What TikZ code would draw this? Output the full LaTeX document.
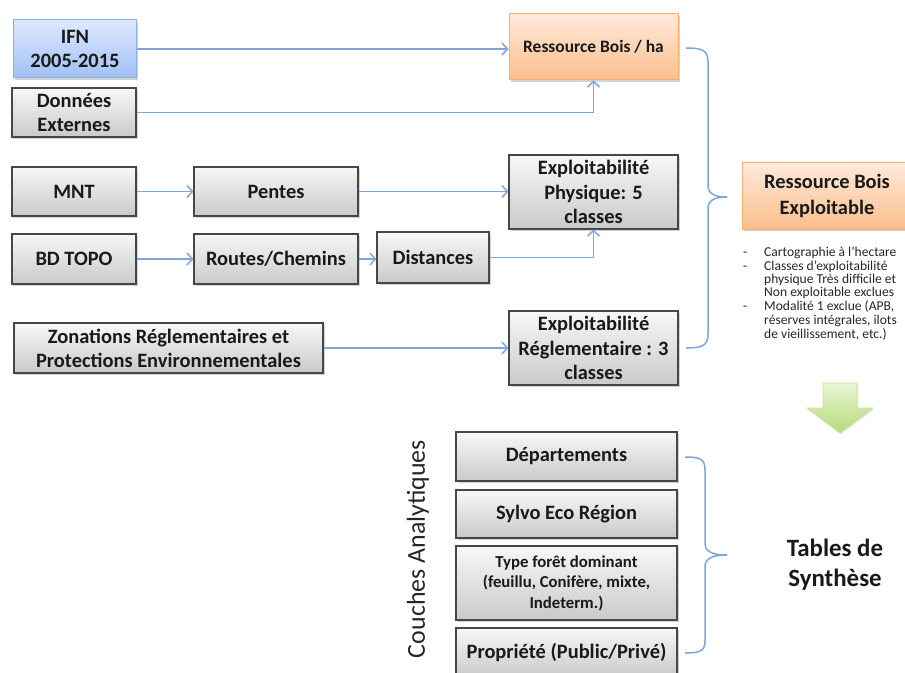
\documentclass[tikz,border=0pt]{standalone}
\usepackage{fontspec}
\setmainfont{Carlito}
\usetikzlibrary{arrows.meta,shadows}
\definecolor{conn}{HTML}{7FA6DA}
\definecolor{oTop}{HTML}{FEEADB}
\definecolor{oBot}{HTML}{FBBE8C}
\definecolor{oBrd}{HTML}{F7AE73}
\definecolor{bTop}{HTML}{DEE9FC}
\definecolor{bBot}{HTML}{A0C0F4}
\definecolor{bBrd}{HTML}{8DB0E8}
\definecolor{gTop}{HTML}{EBF6D8}
\definecolor{gBot}{HTML}{B4DA78}
\definecolor{gBrd}{HTML}{C4E29A}
\tikzset{
  box/.style={align=center, inner sep=0pt, text=black!90,
    drop shadow={shadow xshift=1.5bp, shadow yshift=-1.8bp, opacity=.35},
    font=\fontsize{20.5}{24.5}\selectfont\bfseries},
  gbox/.style={box, draw=black!72, line width=1.1bp, top color=gray!6, bottom color=gray!42},
  obox/.style={box, draw=oBrd, line width=1bp, top color=oTop, bottom color=oBot},
  bbox/.style={box, draw=bBrd, line width=1bp, top color=bTop, bottom color=bBot},
  cn/.style={draw=conn, line width=1.6bp, -{Straight Barb[length=5.5bp,width=12bp,line width=1.5bp]}},
  brc/.style={draw=conn, line width=1.5bp}
}
\begin{document}
\begin{tikzpicture}[x=1bp,y=1bp]
\useasboundingbox (0,0) rectangle (905,-673);
\clip (0,0) rectangle (905,-673);

% top left sources
\node[bbox, minimum width=122bp, minimum height=58bp] (ifn) at (75,-49) {IFN\\2005-2015};
\node[gbox, minimum width=124bp, minimum height=49bp] (don) at (74,-112.5) {Données\\Externes};
\node[obox, minimum width=169bp, minimum height=66bp, font=\fontsize{17.5}{20}\selectfont\bfseries] (rbha) at (593.5,-47) {Ressource Bois / ha};

\node[gbox, minimum width=124bp, minimum height=49bp] (mnt) at (74,-191.5) {MNT};
\node[gbox, minimum width=164bp, minimum height=49bp] (pen) at (276,-191.5) {Pentes};
\node[gbox, minimum width=169bp, minimum height=74bp] (ephys) at (593.5,-192) {Exploitabilité\\Physique: 5\\classes};

\node[gbox, minimum width=124bp, minimum height=50bp] (bd) at (74,-259) {BD TOPO};
\node[gbox, minimum width=164bp, minimum height=50bp] (rou) at (276,-259) {Routes/Chemins};
\node[gbox, minimum width=112bp, minimum height=51bp] (dist) at (433,-257.5) {Distances};

\node[gbox, minimum width=309bp, minimum height=50bp, font=\fontsize{20.5}{24}\selectfont\bfseries] (zon) at (168.5,-348) {Zonations Réglementaires et\\Protections Environnementales};
\node[gbox, minimum width=169bp, minimum height=74bp] (ereg) at (593.5,-348) {Exploitabilité\\Réglementaire : 3\\classes};

\node[obox, minimum width=170bp, minimum height=66bp, font=\fontsize{20.5}{26}\selectfont\bfseries] (rbe) at (827,-196) {Ressource Bois\\Exploitable};

\node[anchor=north west, inner sep=0pt, font=\fontsize{13.6}{13.2}\selectfont, text=black!85] (notes) at (743,-247)
{\renewcommand{\arraystretch}{1}\begin{tabular}{@{}p{21bp}@{}l@{}}
- & Cartographie à l’hectare\\
- & Classes d’exploitabilité\\
  & physique Très difficile et\\
  & Non exploitable exclues\\
- & Modalité 1 exclue (APB,\\
  & réserves intégrales, ilots\\
  & de vieillissement, etc.)
\end{tabular}};

% green arrow
\shade[top color=gTop, bottom color=gBot, draw=gBrd, line width=0.8bp,
  drop shadow={shadow xshift=1bp, shadow yshift=-1.5bp, opacity=.2}]
  (823,-383) -- (857,-383) -- (857,-408) -- (873,-408) -- (840,-433) -- (807,-408) -- (823,-408) -- cycle;

% analytic layers
\node[rotate=90, font=\fontsize{26}{28}\selectfont, text=black!85] (couches) at (418,-549) {Couches Analytiques};
\node[gbox, minimum width=221bp, minimum height=49bp] (dep) at (566.5,-456.5) {Départements};
\node[gbox, minimum width=221bp, minimum height=48bp] (syl) at (566.5,-514) {Sylvo Eco Région};
\node[gbox, minimum width=221bp, minimum height=74bp, font=\fontsize{16.8}{20.5}\selectfont\bfseries] (typ) at (566.5,-583) {Type forêt dominant\\(feuillu, Conifère, mixte,\\Indeterm.)};
\node[gbox, minimum width=221bp, minimum height=49bp] (pro) at (566.5,-652.5) {Propriété (Public/Privé)};

\node[font=\fontsize{25}{30}\selectfont\bfseries, align=center, text=black!90] (tables) at (835,-565) {Tables de\\Synthèse};

% connectors
\draw[cn] (ifn.east) -- (ifn.east -| rbha.west);
\draw[cn] (don.east) -| (rbha.south);
\draw[cn] (mnt.east) -- (pen.west);
\draw[cn] (pen.east) -- (pen.east -| ephys.west);
\draw[cn] (bd.east) -- (rou.west);
\draw[cn] (rou.east) -- (rou.east -| dist.west);
\draw[cn] (dist.east) -| (ephys.south);
\draw[cn] (zon.east) -- (zon.east -| ereg.west);

% braces
\draw[brc] (686,-48) .. controls (702,-48) and (708,-50) .. (708,-62) -- (708,-185)
  .. controls (708,-193) and (713,-197) .. (727,-197)
  .. controls (713,-197) and (708,-201) .. (708,-209) -- (708,-334)
  .. controls (708,-346) and (702,-348) .. (686,-348);
\draw[brc] (685,-457) .. controls (700,-457) and (705,-459) .. (705,-470) -- (705,-543)
  .. controls (705,-551) and (711,-555) .. (727,-555)
  .. controls (711,-555) and (705,-559) .. (705,-567) -- (705,-641)
  .. controls (705,-651) and (700,-653) .. (685,-653);
\end{tikzpicture}
\end{document}
